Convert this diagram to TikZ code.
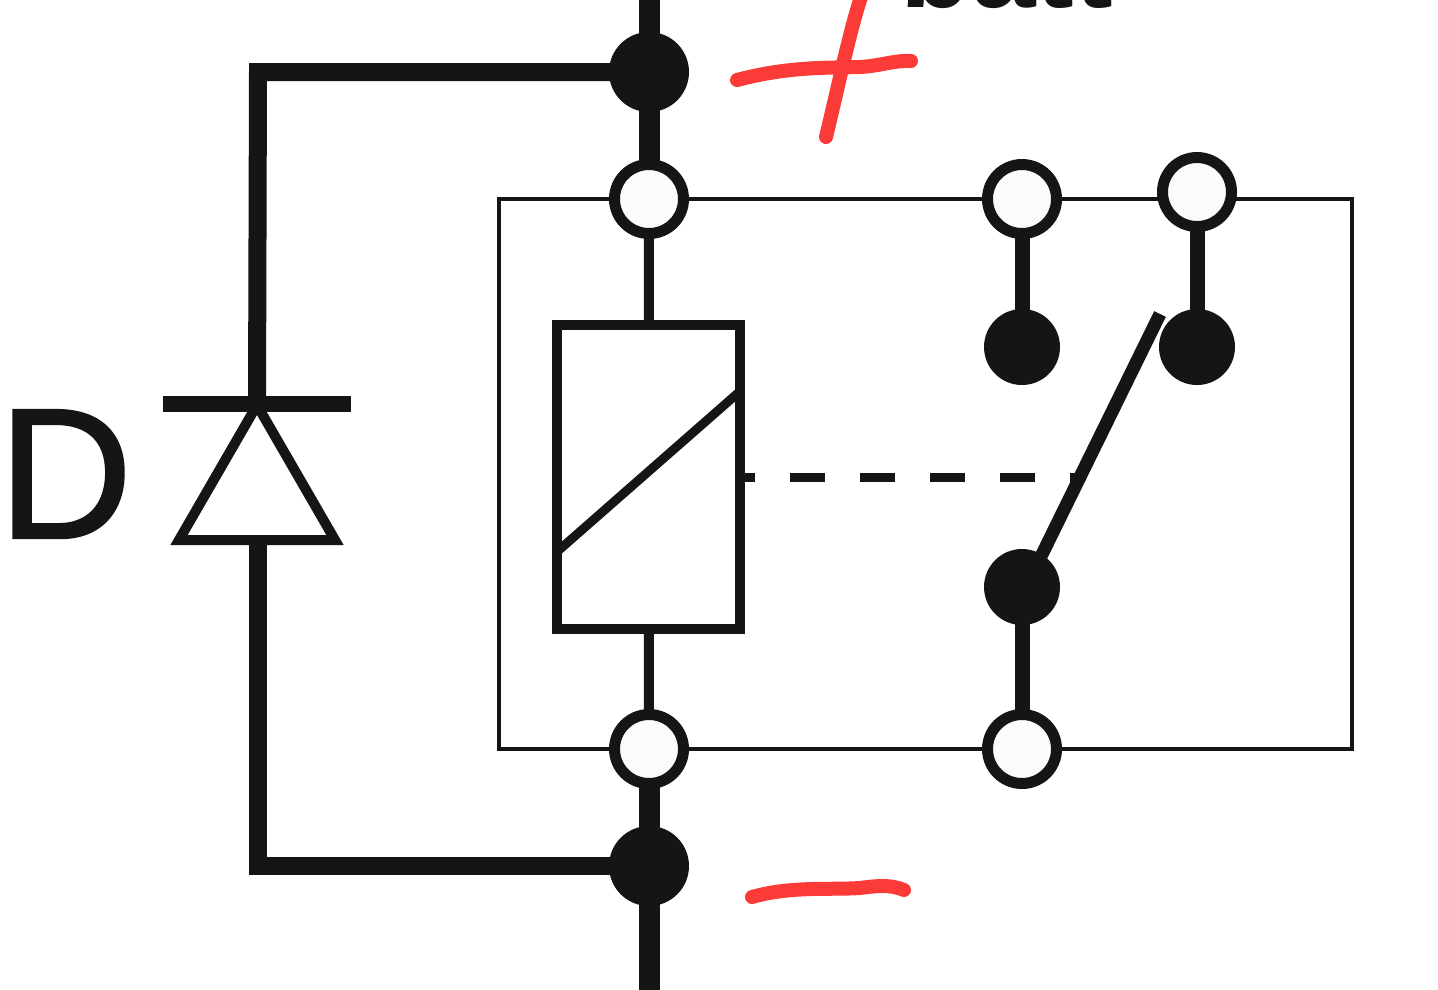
\documentclass[tikz,border=0pt]{standalone}
\usepackage{fontspec}
\setmainfont{Liberation Sans}
\newfontfamily\dfont[FakeBold=1.2]{Liberation Sans}
\usetikzlibrary{backgrounds,calc}
\definecolor{ink}{HTML}{151515}
\definecolor{marker}{HTML}{FB3B38}
\definecolor{holefill}{HTML}{FDFAFB}
\tikzset{
  x=1pt,y=-1pt,
  openpin/.style={circle,draw=ink,fill=holefill,line width=11pt,minimum size=69pt,inner sep=0pt,outer sep=0pt},
  solidpin/.style={circle,fill=ink,draw=none,minimum size=#1,inner sep=0pt,outer sep=0pt},
  solidpin/.default=76pt,
  heavy/.style={draw=ink,line width=21pt},
  wire/.style={draw=ink,line width=18pt},
  lead/.style={draw=ink,line width=10pt},
  stub/.style={draw=ink,line width=15pt},
  redpen/.style={draw=marker,line width=14pt,line cap=round,line join=round},
}
\begin{document}
\begin{tikzpicture}
\useasboundingbox (0,0) rectangle (1438,989);
% terminals
\node[solidpin=80pt] (jtop) at (649,72) {};
\node[solidpin=80pt] (jbot) at (649,866) {};
\node[openpin] (a1) at (649,199) {};
\node[openpin] (a2) at (649,749) {};
\node[openpin] (c1) at (1022,199) {};
\node[openpin] (c2) at (1197,192) {};
\node[openpin] (c3) at (1022,749) {};
\node[solidpin] (k1) at (1022,347) {};
\node[solidpin] (k2) at (1197,347) {};
\node[solidpin] (k3) at (1022,587) {};
% coil
\node[draw=ink,line width=10pt,fill=white,minimum width=183pt,minimum height=304pt,inner sep=0pt,outer sep=0pt] (coil) at (648.5,477) {};
\draw[draw=ink,line width=9pt] ($(coil.south west)+(2,-79)$) coordinate (dA) -- ($(coil.north east)+(-2,68)$) coordinate (dB);
% diode
\node[inner sep=0pt,outer sep=0pt,minimum width=188pt,minimum height=16pt,fill=ink] (bar) at (257,404) {};
\coordinate (apex) at (257,405);
\coordinate (baseL) at (179,540);
\coordinate (baseR) at (335,540);
\draw[draw=ink,line width=10pt,line join=miter] (apex) -- (baseR) -- (baseL) -- cycle;
\coordinate (wireTop) at (258,72);
\coordinate (wireBot) at (258,866);
% text
\node[anchor=base west,inner sep=0pt,font=\dfont\fontsize{186}{186}\selectfont,text=ink] (dlabel) at (-2,538) {D};
\node[anchor=base west,inner sep=0pt,font=\bfseries\fontsize{116}{116}\selectfont,text=ink] (batt) at (900,7) {batt};
% red marks
\draw[redpen] (737,80) .. controls (790,66) and (830,68) .. (860,67) .. controls (880,66) and (895,60) .. (911,61);
\draw[redpen] (862,-6) .. controls (850,30) and (842,70) .. (826,137);
\draw[redpen] (752,897) .. controls (790,886) and (830,890) .. (860,888) .. controls (875,886) and (890,884) .. (904,890);
\begin{scope}[on background layer]
  \fill[white] (0,0) rectangle (1438,989);
  \draw[draw=ink,line width=4pt] (499,199) rectangle (1352,749);
  \coordinate (topEnd) at (649,-5);
  \coordinate (botEnd) at (649,994);
  \draw[heavy] (topEnd) -- (jtop.center);
  \draw[heavy] (jtop.center) -- (a1.center);
  \draw[heavy] (a2.center) -- (jbot.center);
  \draw[heavy] (jbot.center) -- (botEnd);
  \draw[lead] (a1.center) -- (coil);
  \draw[lead] (a2.center) -- (coil);
  \draw[wire,line join=miter] (jtop.center) -- (wireTop) -- (bar.center);
  \draw[wire,line join=miter] (jbot.center) -- (wireBot) -- (258,545);
  \draw[stub] (c1.center) -- (k1.center);
  \draw[stub] (c2.center) -- (k2.center);
  \draw[stub] (c3.center) -- (k3.center);
\end{scope}
% moving contact
\coordinate (bladeEnd) at (1160,314);
\draw[draw=ink,line width=13pt] ($(k3.center)+(4,0)$) -- (bladeEnd);
\coordinate (dashEnd) at (1085,477);
\draw[draw=ink,line width=9pt,dash pattern=on 35pt off 35pt,dash phase=20pt] (coil.east |- dashEnd) -- (dashEnd);
\end{tikzpicture}
\end{document}
